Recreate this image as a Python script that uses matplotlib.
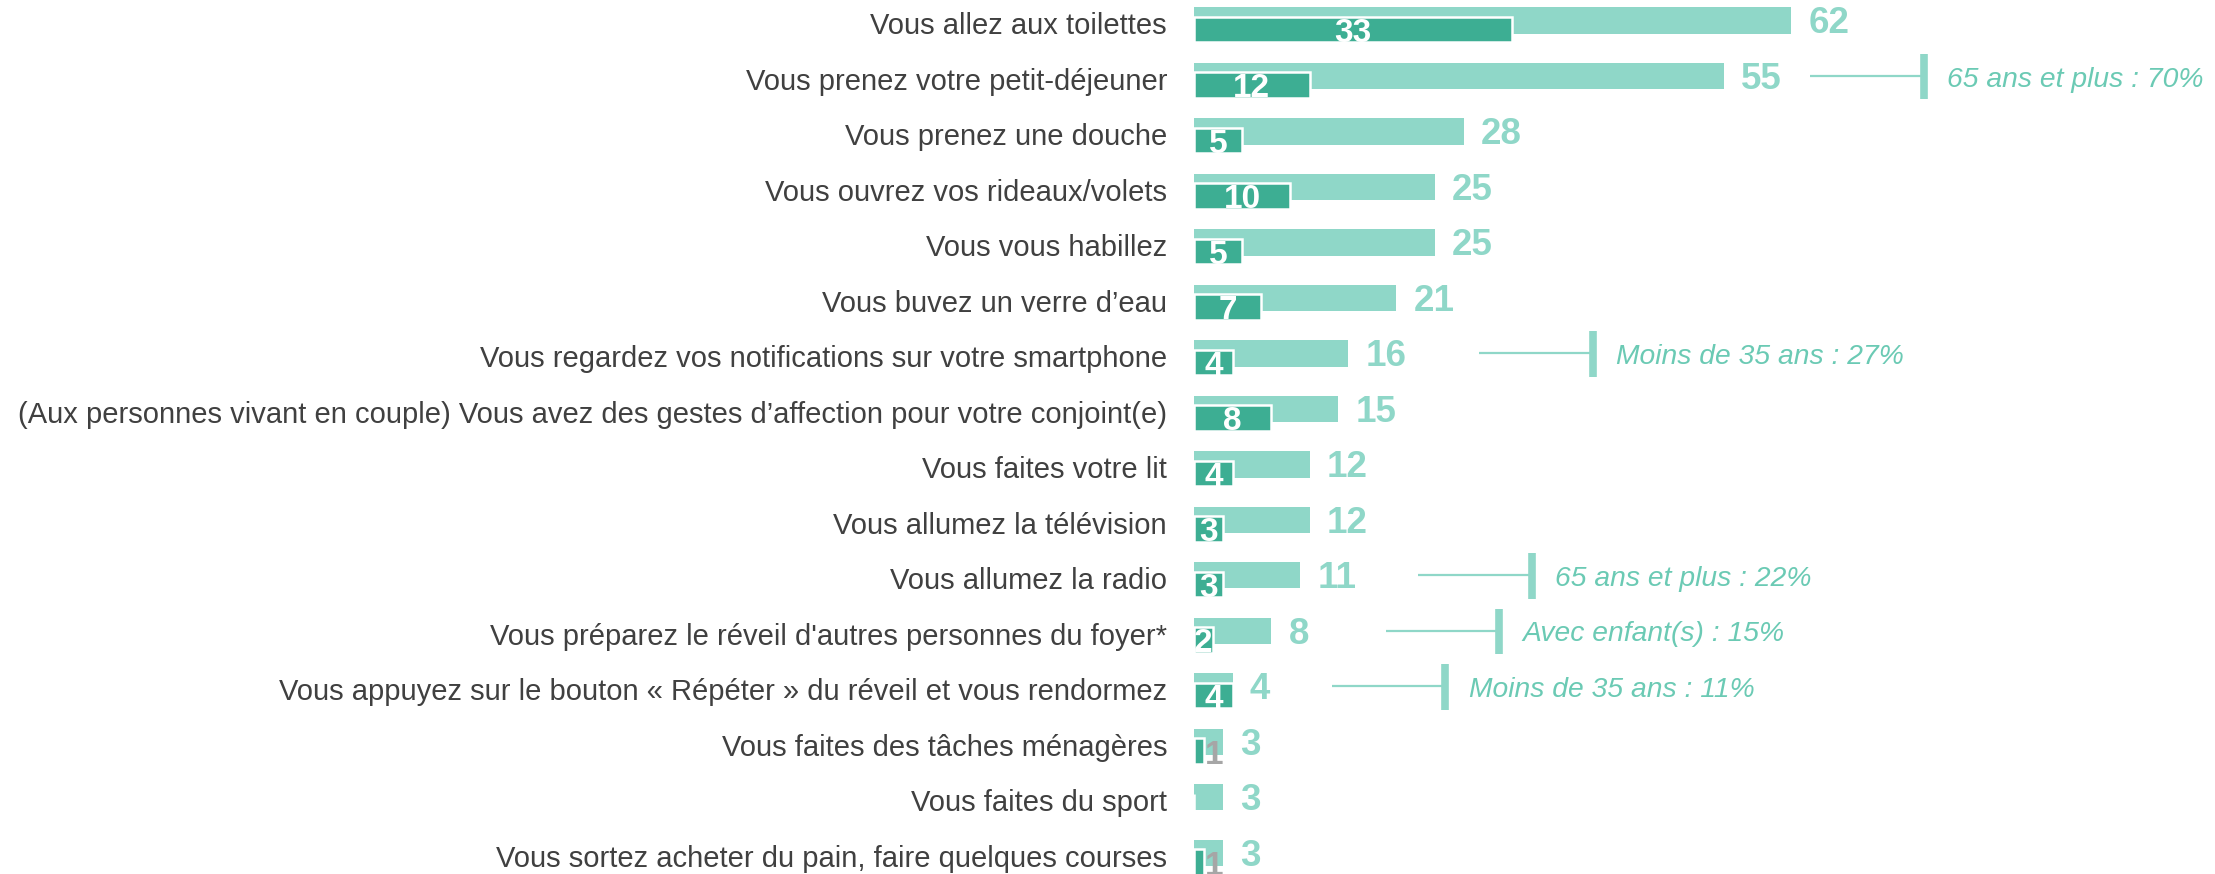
import matplotlib
matplotlib.use('Agg')
import matplotlib.pyplot as plt

# data
categories = [
    "Vous allez aux toilettes",
    "Vous prenez votre petit-déjeuner",
    "Vous prenez une douche",
    "Vous ouvrez vos rideaux/volets",
    "Vous vous habillez",
    "Vous buvez un verre d\u2019eau",
    "Vous regardez vos notifications sur votre smartphone",
    "(Aux personnes vivant en couple) Vous avez des gestes d\u2019affection pour votre conjoint(e)",
    "Vous faites votre lit",
    "Vous allumez la télévision",
    "Vous allumez la radio",
    "Vous préparez le réveil d'autres personnes du foyer*",
    "Vous appuyez sur le bouton « Répéter » du réveil et vous rendormez",
    "Vous faites des tâches ménagères",
    "Vous faites du sport",
    "Vous sortez acheter du pain, faire quelques courses",
]
total = [62, 55, 28, 25, 25, 21, 16, 15, 12, 12, 11, 8, 4, 3, 3, 3]
first = [33, 12, 5, 10, 5, 7, 4, 8, 4, 3, 3, 2, 4, 1, 0, 1]
note_rows = [1, 6, 10, 11, 12]
note_texts = [
    "65 ans et plus : 70%",
    "Moins de 35 ans : 27%",
    "65 ans et plus : 22%",
    "Avec enfant(s) : 15%",
    "Moins de 35 ans : 11%",
]

# layout: gap between bar end and the start of each callout line
note_gap = [9.0, 13.6, 12.3, 11.9, 10.3]

light = '#8FD7C8'
dark = '#3DAE93'
note_col = '#6BCAB4'
grey = '#A6A6A6'
txt = '#404040'

plt.rcParams['font.family'] = ['Liberation Sans', 'DejaVu Sans']

fig = plt.figure(figsize=(22.15, 8.74), dpi=100)
ax = fig.add_axes([1194 / 2215, 0, 1 - 1194 / 2215, 1])
ax.set_xlim(0, 106)
ax.set_ylim(15.38, -0.37)
ax.axis('off')

rows = list(range(len(categories)))
dy = 0.16  # dark bar sits a bit lower than the light one

ax.barh(rows, total, height=0.47, color=light, zorder=1)
ax.barh([r + dy for r in rows], first, height=0.46, color=dark,
        edgecolor='white', linewidth=1.8, zorder=2)

for i, (lab, t, f) in enumerate(zip(categories, total, first)):
    ax.text(-2.8, i + 0.25, lab, ha='right', va='baseline', fontsize=21,
            color=txt, clip_on=False)
    ax.text(t + 1.8, i + 0.23, str(t), ha='left', va='baseline', fontsize=26.5,
            fontweight='bold', color=light)
    if f >= 2:
        ax.text(f / 2, i + dy + 0.22, str(f), ha='center', va='baseline',
                fontsize=24, fontweight='bold', color='white', zorder=3)
    elif f == 1:
        ax.text(2.1, i + dy + 0.23, str(f), ha='center', va='baseline',
                fontsize=24, fontweight='bold', color=grey, zorder=3)

for i, note, gap in zip(note_rows, note_texts, note_gap):
    x0 = total[i] + gap
    x1 = x0 + 11.8
    ax.plot([x0, x1], [i, i], color=light, lw=1.6, solid_capstyle='butt')
    ax.plot([x1, x1], [i - 0.4, i + 0.42], color=light, lw=5.5,
            solid_capstyle='butt')
    ax.text(x1 + 2.4, i + 0.19, note, ha='left', va='baseline', fontsize=20.3,
            style='italic', color=note_col)

fig.savefig('out.png', dpi=100)
